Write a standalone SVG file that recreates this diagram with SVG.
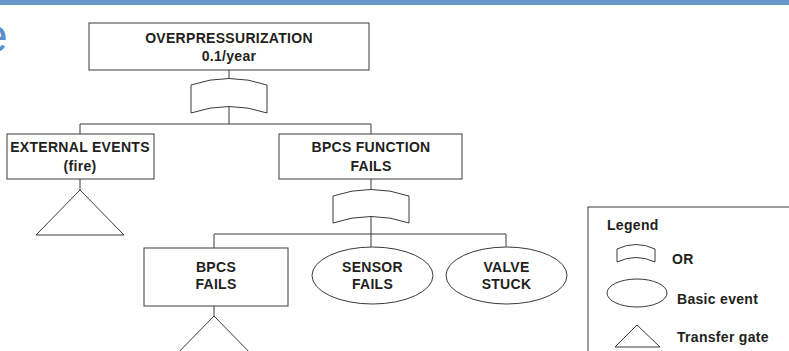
<svg xmlns="http://www.w3.org/2000/svg" width="789" height="351" viewBox="0 0 789 351">
<style>
.ln{fill:none;stroke:#3a3a3a;stroke-width:1}
.sh{fill:#fff;stroke:#3a3a3a;stroke-width:1}
.t{font-family:"Liberation Sans",Arial,sans-serif;font-weight:bold;font-size:14px;fill:#231f20;letter-spacing:0.3px}
.c{text-anchor:middle}
</style>
<rect x="0" y="0" width="789" height="5" fill="#6699c9"/>
<text x="-19" y="52" font-family="Liberation Sans,Arial,sans-serif" font-size="48" fill="#5b8fc9">e</text>
<g id="connectors" class="ln">
<path d="M229,70V79M229,106V124M80,124H371M80,124V134M371,124V134"/>
<path d="M80,179V190M371,179V190M371,216V234M214,234H506M214,234V248M371,234V247M506,234V247M214,306V316"/>
</g>
<g id="top">
<rect class="sh" x="89" y="23" width="280" height="47"/>
<text class="t c" x="229" y="43">OVERPRESSURIZATION</text>
<text class="t c" x="229" y="61">0.1/year</text>
</g>
<g id="or1"><path class="sh" d="M191,85Q229,72 267,85V113Q229,100 191,113Z"/></g>
<g id="external">
<rect class="sh" x="7" y="134" width="147" height="45"/>
<text class="t c" x="80" y="152">EXTERNAL EVENTS</text>
<text class="t c" x="80" y="171">(fire)</text>
</g>
<g id="tri1"><path class="sh" d="M80,190L124,235H36Z"/></g>
<g id="bpcsfunc">
<rect class="sh" x="279" y="134" width="183" height="45"/>
<text class="t c" x="371" y="152">BPCS FUNCTION</text>
<text class="t c" x="371" y="171">FAILS</text>
</g>
<g id="or2"><path class="sh" d="M333,196Q371,183 409,196V223Q371,210 333,223Z"/></g>
<g id="bpcsfails">
<rect class="sh" x="144" y="248" width="144" height="58"/>
<text class="t c" x="216" y="272">BPCS</text>
<text class="t c" x="216" y="289">FAILS</text>
</g>
<g id="tri2"><path class="sh" d="M214,316L259,362H169Z"/></g>
<g id="sensor">
<ellipse class="sh" cx="372.5" cy="275.5" rx="60.5" ry="28.5"/>
<text class="t c" x="372.5" y="272">SENSOR</text>
<text class="t c" x="372.5" y="289">FAILS</text>
</g>
<g id="valve">
<ellipse class="sh" cx="506.5" cy="275.5" rx="60.5" ry="28.5"/>
<text class="t c" x="506.5" y="272">VALVE</text>
<text class="t c" x="506.5" y="289">STUCK</text>
</g>
<g id="legend">
<rect class="sh" x="588" y="207" width="220" height="160"/>
<text class="t" x="607" y="230">Legend</text>
<path class="sh" d="M617,249Q636,240 655,249V262Q636,253 617,262Z"/>
<text class="t" x="672" y="264">OR</text>
<ellipse class="sh" cx="637" cy="293" rx="30" ry="14"/>
<text class="t" x="677" y="304">Basic event</text>
<path class="sh" d="M637,325L660,347H615Z"/>
<text class="t" x="677" y="342">Transfer gate</text>
</g>
</svg>
